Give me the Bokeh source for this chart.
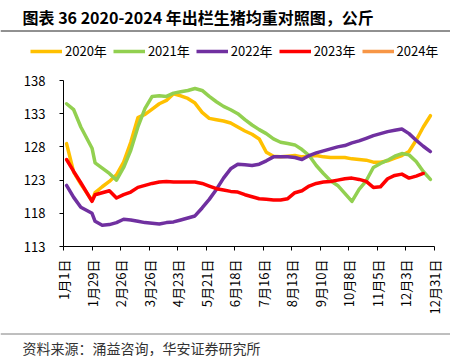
from bokeh.plotting import figure
from bokeh.models import Range1d, FixedTicker, Legend, LegendItem
from bokeh.core.properties import value
from bokeh.embed import file_html
from bokeh.resources import INLINE

# ---------------- data ----------------
title_text = "图表 36 2020-2024 年出栏生猪均重对照图，公斤"
source_text = "资料来源：涌益咨询，华安证券研究所"

# day of year of each weekly observation
day_of_year = [3, 10, 17, 28, 31, 38, 45, 52, 59, 66, 73, 80, 87, 94, 101, 108,
               115, 122, 129, 136, 143, 150, 157, 164, 171, 178, 185, 192, 199,
               206, 213, 220, 227, 234, 241, 248, 255, 262, 269, 276, 283, 290,
               297, 304, 311, 318, 325, 332, 339, 346, 353, 360]

w2020 = [128.5, 124.2, 122.4, 119.9, 121.1, 122.0, 122.8, 123.8, 125.7, 128.7,
         132.4, 132.9, 133.7, 134.5, 135.0, 136.0, 135.7, 135.3, 134.6, 133.2,
         132.3, 132.1, 131.9, 131.6, 131.0, 130.4, 129.9, 129.2, 127.2, 126.6,
         126.5, 126.6, 126.7, 126.5, 126.6, 126.7, 126.5, 126.4, 126.4, 126.4,
         126.2, 126.1, 126.0, 125.7, 125.7, 125.9, 126.3, 126.7, 127.3, 129.0,
         131.0, 132.7]

w2021 = [134.5, 133.6, 131.0, 127.8, 125.6, 124.8, 124.0, 123.0, 124.9, 127.5,
         131.0, 133.8, 135.6, 135.7, 135.6, 136.1, 136.3, 136.5, 136.8, 136.5,
         135.6, 134.8, 134.1, 133.6, 133.0, 132.1, 131.3, 130.6, 130.0, 129.2,
         128.7, 128.5, 128.3, 127.6, 126.7, 125.2, 124.0, 122.9, 122.2, 121.0,
         119.8, 121.6, 122.9, 124.9, 125.5, 126.0, 126.6, 127.0, 126.8, 125.8,
         124.3, 123.1]

w2022 = [122.2, 120.4, 118.9, 118.0, 116.8, 116.2, 116.3, 116.6, 117.1, 117.0,
         116.8, 116.6, 116.5, 116.4, 116.6, 116.7, 117.0, 117.3, 117.6, 118.8,
         120.1, 121.6, 123.3, 124.7, 125.4, 125.3, 125.2, 125.4, 125.9, 126.5,
         126.5, 126.5, 126.4, 126.1, 126.7, 127.1, 127.4, 127.7, 128.0, 128.2,
         128.6, 128.9, 129.3, 129.7, 130.0, 130.3, 130.5, 130.7, 130.0, 129.0,
         128.1, 127.3]

w2023 = [126.1, 124.3, 122.6, 119.8, 120.8, 121.1, 121.4, 120.3, 120.8, 121.2,
         121.9, 122.2, 122.5, 122.7, 122.8, 122.7, 122.7, 122.7, 122.7, 122.5,
         122.1, 121.7, 121.5, 121.3, 121.2, 120.8, 120.5, 120.2, 120.1, 120.0,
         120.0, 120.2, 121.1, 121.4, 122.1, 122.5, 122.7, 122.8, 123.0, 123.2,
         123.3, 123.1, 122.8, 121.9, 122.0, 123.2, 123.7, 123.9, 123.3, 123.6,
         124.0]

w2024 = []

series_names = ["2020年", "2021年", "2022年", "2023年", "2024年"]
series_values = [w2020, w2021, w2022, w2023, w2024]
series_colors = ["#FFC000", "#92D050", "#7030A0", "#FF0000", "#F79646"]

tick_days = [0, 28, 56, 84, 112, 140, 168, 196, 224, 252, 280, 308, 336, 364]
tick_labels = ["1月1日", "1月29日", "2月26日", "3月26日", "4月23日", "5月21日",
               "6月18日", "7月16日", "8月13日", "9月10日", "10月8日", "11月5日",
               "12月3日", "12月31日"]
y_ticks = [113, 118, 123, 128, 133, 138]

CJK = "Noto Sans CJK SC"
W = 450
LW = 3.5
NAN = float("nan")


def strip(height):
    f = figure(width=W, height=height, x_range=Range1d(0, W),
               y_range=Range1d(height, 0), toolbar_location=None,
               output_backend="svg", min_border=0,
               x_axis_location=None, y_axis_location=None)
    f.grid.visible = False
    f.outline_line_color = None
    return f


# ---------------- title + legend strip ----------------
top = strip(64)
top.text(x=[22], y=[16], text=[title_text], text_baseline="middle",
         text_font=value(CJK), text_font_style="bold", text_font_size="16px",
         text_color="#000000")
top.line(x=[0, W], y=[30.5, 30.5], line_color="#222222", line_width=1)

# legend swatches (non-drawing proxies styled like the series lines)
items = []
for name, col in zip(series_names, series_colors):
    proxy = top.line(x=[NAN, NAN], y=[NAN, NAN], line_color=col,
                     line_width=LW, line_cap="butt")
    items.append(LegendItem(label=name, renderers=[proxy]))
legend = Legend(items=items, orientation="horizontal", location=(30, 4),
                glyph_width=32, glyph_height=16, label_height=16,
                label_standoff=3, spacing=6,
                padding=0, margin=0, border_line_color=None,
                background_fill_alpha=0, label_text_font=CJK,
                label_text_font_size="13px", label_text_color="#000000")
top.add_layout(legend)

# ---------------- main chart ----------------
p = figure(width=W, height=261, x_range=Range1d(0, 364), y_range=Range1d(113, 138),
           toolbar_location=None, output_backend="svg",
           min_border_left=63, min_border_right=16, min_border_top=16,
           min_border_bottom=79)
p.grid.visible = False
p.outline_line_color = None

for name, vals, col in zip(series_names, series_values, series_colors):
    p.line(x=day_of_year[:len(vals)], y=vals, line_color=col, line_width=LW,
           line_join="round", line_cap="round")

p.yaxis.ticker = FixedTicker(ticks=y_ticks)
p.yaxis.minor_tick_line_color = None
p.yaxis.major_tick_in = 0
p.yaxis.major_tick_out = 4
p.yaxis.major_label_standoff = 14
p.yaxis.major_label_text_font = CJK
p.yaxis.major_label_text_font_size = "13px"
p.yaxis.major_label_text_color = "#000000"
p.yaxis.axis_line_color = "#000000"
p.yaxis.major_tick_line_color = "#000000"

p.xaxis.ticker = FixedTicker(ticks=tick_days)
p.xaxis.major_label_overrides = {d: t for d, t in zip(tick_days, tick_labels)}
p.xaxis.major_label_orientation = 1.5707963
p.xaxis.minor_tick_line_color = None
p.xaxis.major_tick_in = 0
p.xaxis.major_tick_out = 4
p.xaxis.major_label_standoff = 9
p.xaxis.major_label_text_font = CJK
p.xaxis.major_label_text_font_size = "13px"
p.xaxis.major_label_text_color = "#000000"
p.xaxis.axis_line_color = "#000000"
p.xaxis.major_tick_line_color = "#000000"

# ---------------- source strip ----------------
bot = strip(31)
bot.line(x=[0, W], y=[8.5, 8.5], line_color="#7f7f7f", line_width=1)
bot.text(x=[22], y=[22], text=[source_text], text_baseline="middle",
         text_font=value(CJK), text_font_size="14px", text_color="#333333")

open("out.html", "w").write(file_html([top, p, bot], INLINE))
